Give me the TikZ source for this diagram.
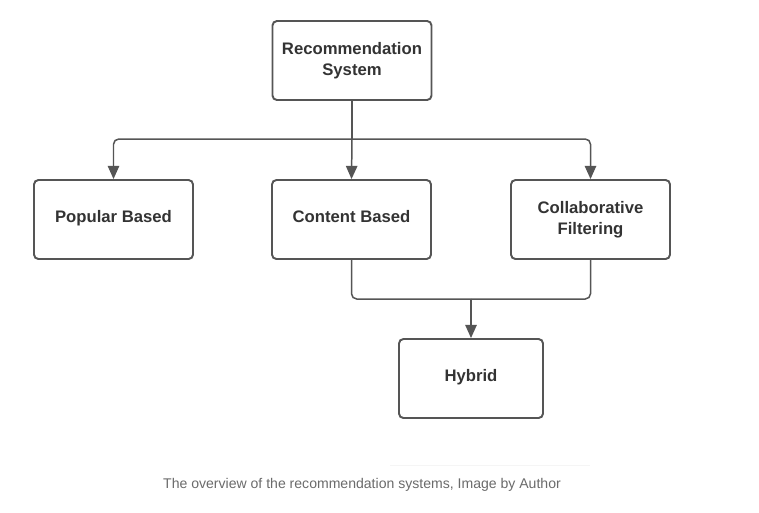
\documentclass[tikz,border=0pt]{standalone}
\usepackage{fontspec}
\setmainfont{Liberation Sans}
\usetikzlibrary{arrows.meta}

\definecolor{linegray}{HTML}{555555}
\definecolor{textgray}{HTML}{333333}
\definecolor{captiongray}{HTML}{6B6B6B}

\tikzset{
    sysbox/.style={draw=linegray, line width=1.1pt, rounded corners=2.5pt, fill=white,
        minimum width=3.18cm, minimum height=1.58cm, align=center,
        font=\fontsize{9.5}{12}\selectfont\bfseries, text=textgray},
    oneline/.style={text height=1.7ex, text depth=1.1ex},
    link/.style={draw=linegray, line width=0.85pt, rounded corners=3pt},
    tip/.style={-{Triangle[length=7.5pt, width=6.5pt]}}
}

\begin{document}
\begin{tikzpicture}[x=0.02cm, y=-0.02cm]
        \useasboundingbox [fill=white] (0,0) rectangle (759,512);
        \node [sysbox] (rec) at (352, 60.5) {Recommendation\\System};
        \node [sysbox, oneline] (pop) at (113.5, 219.5) {Popular Based};
        \node [sysbox, oneline] (con) at (351.5, 219.5) {Content Based};
        \node [sysbox] (col) at (590.5, 219.5) {Collaborative\\Filtering};
        \node [sysbox, oneline, minimum width=2.88cm] (hyb) at (471, 378.5) {Hybrid};
        \coordinate (split) at (rec.south |- 0, 139);
        \coordinate (merge) at (hyb.north |- 0, 299);
        \draw [link] (rec.south) -- (split);
        \draw [link, tip] (split) -| (pop.north);
        \draw [link, tip] (split) -- (con.north);
        \draw [link, tip] (split) -| (col.north);
        \draw [link] (con.south) |- (merge);
        \draw [link] (col.south) |- (merge);
        \draw [link, tip] (merge) -- (hyb.north);
        \draw [gray!8, line width=0.5pt] (390, 465) -- (590, 465);
        \node [text=captiongray, font=\fontsize{8}{10}\selectfont] (cap) at (362, 485)
            {The overview of the recommendation systems, Image by Author};
\end{tikzpicture}
\end{document}
